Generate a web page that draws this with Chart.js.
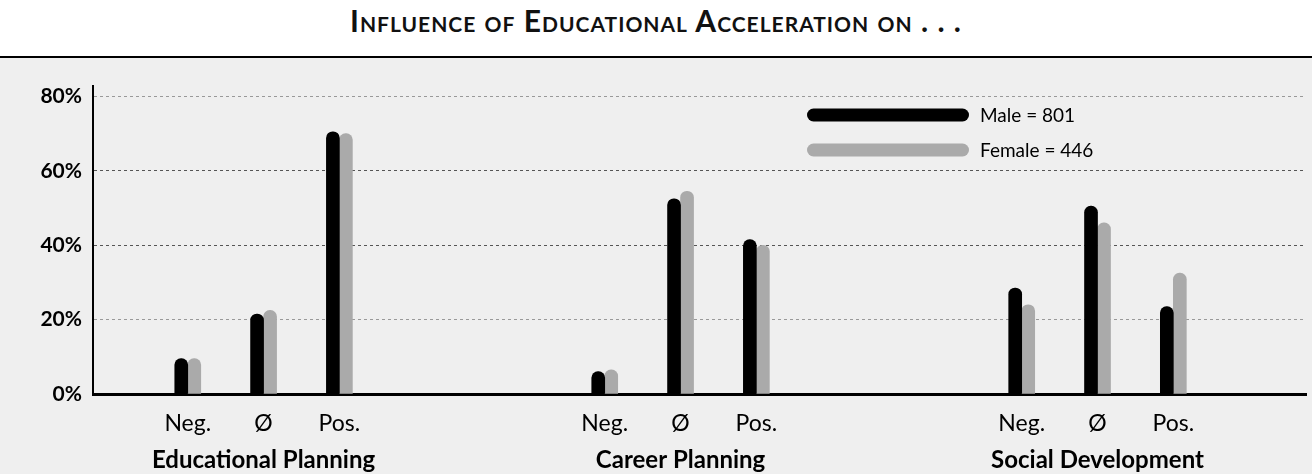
<!DOCTYPE html>
<html>
<head>
<meta charset="utf-8">
<script src="https://cdn.jsdelivr.net/npm/chart.js@4"></script>
<style>
  html, body { margin: 0; padding: 0; background: #fff; overflow: hidden; }
  #title {
    height: 56px; border-bottom: 2px solid #000; text-align: center;
    font: bold 30px 'Lato', sans-serif; font-variant: small-caps;
    letter-spacing: 1px; line-height: 41px; color: #111;
  }
  #wrap { position: relative; width: 1312px; height: 416px; background: #efefef; }
</style>
</head>
<body>
<div id="title">Influence of Educational Acceleration on . . .</div>
<div id="wrap"><canvas id="chart"></canvas></div>
<script>
const groups    = ['Educational Planning', 'Career Planning', 'Social Development'];
const responses = ['Neg.', 'Ø', 'Pos.'];
const male      = [[9.5, 21.5, 70.5], [6, 52.5, 41.5], [28.5, 50.5, 23.5]];
const female    = [[9.5, 22.5, 70],   [6.5, 54.5, 40], [24, 46, 32.5]];
const seriesNames = ['Male = 801', 'Female = 446'];
const yTicks    = [0, 20, 40, 60, 80];

Chart.defaults.font.family = "'Lato', sans-serif";
Chart.defaults.color = '#000';

// slot layout on the category axis (blank slots give the gaps between groups)
const lead = 2, spread = 2, groupGap = 11, slotCount = 32;
const labels = Array(slotCount).fill('');
const maleData = Array(slotCount).fill(null);
const femaleData = Array(slotCount).fill(null);
const groupAt = {};
groups.forEach((g, gi) => {
  responses.forEach((r, ri) => {
    const i = lead + gi * groupGap + ri * spread;
    labels[i] = r;
    maleData[i] = male[gi][ri];
    femaleData[i] = female[gi][ri];
  });
  groupAt[lead + gi * groupGap + spread] = g;
});

const pairLegend = {
  id: 'pairLegend',
  afterDraw(chart, args, opts) {
    const ctx = chart.ctx;
    ctx.save();
    chart.data.datasets.forEach((ds, i) => {
      const y = opts.y + i * opts.rowGap;
      ctx.strokeStyle = ds.backgroundColor;
      ctx.lineWidth = opts.thickness;
      ctx.lineCap = 'round';
      ctx.beginPath();
      ctx.moveTo(opts.x + opts.thickness / 2, y);
      ctx.lineTo(opts.x + opts.length - opts.thickness / 2, y);
      ctx.stroke();
      ctx.fillStyle = '#000';
      ctx.font = opts.font;
      ctx.textBaseline = 'middle';
      ctx.fillText(ds.label, opts.x + opts.length + 11, y + 1);
    });
    ctx.restore();
  }
};

new Chart(document.getElementById('chart'), {
  type: 'bar',
  data: {
    labels,
    datasets: [
      { label: seriesNames[0], data: maleData,   backgroundColor: '#000' },
      { label: seriesNames[1], data: femaleData, backgroundColor: '#aaa' }
    ]
  },
  options: {
    responsive: true,
    maintainAspectRatio: false,
    animation: false,
    layout: { padding: { top: 28, right: 6, left: 0, bottom: 0 } },
    datasets: {
      bar: { barThickness: 13, borderRadius: 7, borderSkipped: 'start' }
    },
    plugins: {
      legend: { display: false },
      tooltip: { enabled: false },
      pairLegend: { x: 807, y: 57, rowGap: 35, length: 162, thickness: 13, font: "19px 'Lato', sans-serif" }
    },
    scales: {
      x: {
        weight: 0,
        grid: { display: false, drawTicks: false },
        border: { display: true, color: '#000', width: 3 },
        afterFit: s => { s.height = 46; },
        ticks: {
          autoSkip: false, maxRotation: 0, minRotation: 0, padding: 16,
          font: { size: 23 }
        }
      },
      xg: {
        type: 'category',
        position: 'bottom',
        weight: 1,
        offset: true,
        grid: { display: false, drawTicks: false },
        border: { display: false },
        afterFit: s => { s.height = 34; },
        ticks: {
          autoSkip: false, maxRotation: 0, minRotation: 0, padding: 6,
          font: { size: 24, weight: 'bold' },
          callback: (v, i) => groupAt[i] || ''
        }
      },
      y: {
        min: 0,
        max: 82.8,
        afterBuildTicks: s => { s.ticks = yTicks.map(v => ({ value: v })); },
        afterFit: s => { s.width = 93; },
        grid: {
          drawTicks: false,
          lineWidth: 1,
          color: c => {
            if (!c.tick || c.tick.value === 0) return 'rgba(0,0,0,0)';
            return (c.tick.value === 40 || c.tick.value === 60) ? '#555' : '#999';
          }
        },
        border: { display: true, color: '#000', width: 2, dash: [3, 3] },
        ticks: {
          padding: 11,
          font: { size: 21, weight: 'bold' },
          callback: v => v + '%'
        }
      }
    }
  },
  plugins: [pairLegend]
});
</script>
</body>
</html>
